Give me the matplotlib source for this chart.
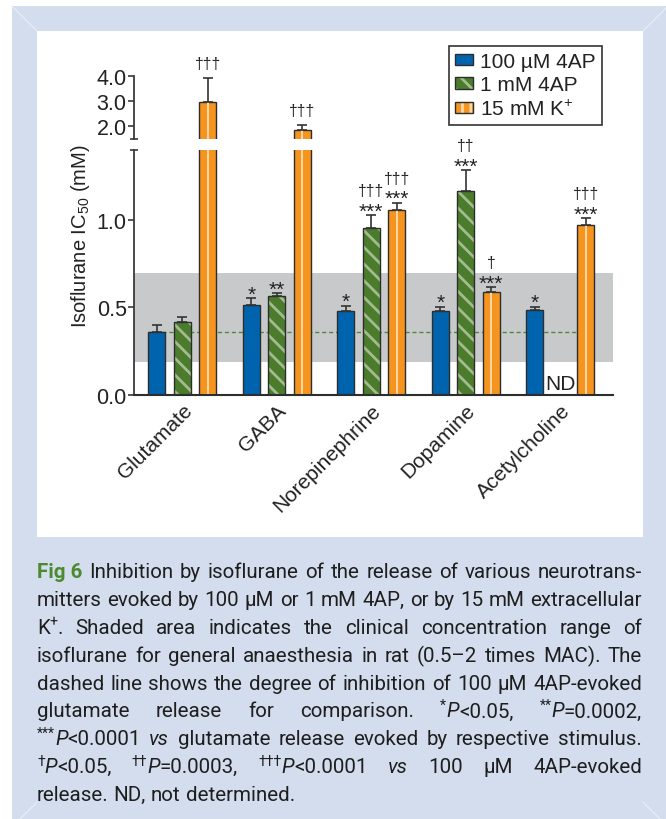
import re
import matplotlib
matplotlib.use("Agg")
import matplotlib.pyplot as plt
import numpy as np
from matplotlib.patches import Rectangle, Patch
from matplotlib.lines import Line2D
from matplotlib.legend_handler import HandlerTuple
from matplotlib.font_manager import FontProperties

plt.rcParams['font.family'] = ['Liberation Sans', 'DejaVu Sans']
plt.rcParams['mathtext.fontset'] = 'custom'
plt.rcParams['mathtext.rm'] = 'Liberation Sans'
plt.rcParams['mathtext.it'] = 'Liberation Sans:italic'
plt.rcParams['hatch.linewidth'] = 2.0

# IC50 values (mM) with SEM, per transmitter and stimulus
transmitters = ["Glutamate", "GABA", "Norepinephrine", "Dopamine", "Acetylcholine"]
ic50_4ap100 = [0.362, 0.515, 0.479, 0.477, 0.485]
sem_4ap100 = [0.036, 0.037, 0.031, 0.027, 0.019]
ic50_4ap1m = [0.414, 0.565, 0.953, 1.166, np.nan]
sem_4ap1m = [0.029, 0.017, 0.077, 0.122, np.nan]
ic50_k15 = [2.98, 1.85, 1.056, 0.586, 0.971]
sem_k15 = [0.94, 0.21, 0.044, 0.032, 0.039]

stars_4ap100 = ["", "*", "*", "*", "*"]
stars_4ap1m = ["", "**", "***", "***", ""]
dagger_4ap1m = ["", "", "†††", "††", ""]
stars_k15 = ["", "", "***", "***", "***"]
dagger_k15 = ["†††", "†††", "†††", "†", "†††"]

series_labels = ["100 µM 4AP", "1 mM 4AP", "15 mM K$^{+}$"]
clinical_range = (0.185, 0.70)

BLUE = '#0063ae'
GREEN = '#4a7c2c'
GREEN_LT = '#a3bb8f'
ORANGE = '#f5951f'
ORANGE_LT = '#fcd7a6'
EDGE = '#2d2d2d'
BAND = '#c8c9cb'
FRAME = '#d4ddee'

W, H = 666, 820
fig = plt.figure(figsize=(W / 100, H / 100), dpi=100)
fx = lambda px: px / W
fy = lambda py: 1 - py / H

# framed background
fig.add_artist(Rectangle((fx(12), fy(830)), fx(670) - fx(12), fy(7) - fy(830),
                         transform=fig.transFigure, color=FRAME, lw=0, zorder=-10))
fig.add_artist(Rectangle((fx(37), fy(538)), fx(643) - fx(37), fy(32) - fy(538),
                         transform=fig.transFigure, color='white', lw=0, zorder=-9))
for (x0, y0), (x1, y1) in [((12, 7), (37, 32)), ((668, 7), (643, 32)),
                           ((12, 828), (37, 803)), ((668, 828), (643, 803))]:
    fig.add_artist(Line2D([fx(x0), fx(x1)], [fy(y0), fy(y1)], transform=fig.transFigure,
                          color='#e9eef7', lw=0.8, zorder=-8))

ax_lo = fig.add_axes([fx(134), fy(395.7), fx(612.7) - fx(134), fy(151.3) - fy(395.7)])
ax_hi = fig.add_axes([fx(134), fy(140), fx(612.7) - fx(134), fy(77.3) - fy(140)])

x = np.arange(len(transmitters))
off = 0.27
bw = 0.18

series = [(ic50_4ap100, sem_4ap100, BLUE, None, None),
          (ic50_4ap1m, sem_4ap1m, GREEN, GREEN_LT, '\\\\'),
          (ic50_k15, sem_k15, ORANGE, None, None)]

for ax in (ax_lo, ax_hi):
    ax.set_facecolor('none')
    for k, (vals, sems, col, hcol, hatch) in enumerate(series):
        xs = x + (k - 1) * off
        vals = np.array(vals)
        ok = ~np.isnan(vals)
        if hatch:
            ax.bar(xs[ok], vals[ok], bw, color=col, edgecolor=hcol, hatch=hatch, lw=0, zorder=2)
            ax.bar(xs[ok], vals[ok], bw, fill=False, edgecolor=EDGE, lw=1.0, zorder=2.2)
        else:
            ax.bar(xs[ok], vals[ok], bw, color=col, edgecolor=EDGE, lw=1.0, zorder=2)
        if col == ORANGE:
            ax.vlines(xs[ok], 0, vals[ok], color=ORANGE_LT, lw=1.4, zorder=2.1)
        ax.errorbar(xs[ok], vals[ok], yerr=[np.zeros(ok.sum()), np.array(sems)[ok]],
                    fmt='none', ecolor='#333333', elinewidth=1.2, capsize=3.4,
                    capthick=1.2, zorder=2.3)
    ax.set_xlim(-0.511, 4.556)
    for s in ('top', 'right'):
        ax.spines[s].set_visible(False)
    ax.spines['left'].set_color('#3a3a3a')
    ax.spines['left'].set_linewidth(1.3)
    ax.tick_params(axis='y', direction='out', length=4.3, width=1.2, color='#3a3a3a',
                   labelsize=15.5, pad=1, labelcolor='#222222')

# lower segment
ax_lo.set_ylim(0, 1.40)
ax_lo.axhspan(*clinical_range, color=BAND, lw=0, zorder=0)
ax_lo.plot([-off - bw / 2, 4 + off], [ic50_4ap100[0]] * 2, color='#4f8a3c', lw=1.0,
           ls=(0, (3, 2)), zorder=1)
ax_lo.set_yticks([0, 0.5, 1.0], ['0.0', '0.5', '1.0'])
ax_lo.spines['bottom'].set_color('#2d2d2d')
ax_lo.spines['bottom'].set_linewidth(1.5)
ax_lo.set_xticks(x, transmitters, rotation=45, ha='right', rotation_mode='anchor',
                 fontsize=15, color='#222222')
ax_lo.tick_params(axis='x', length=0, pad=4)
ax_lo.plot(0, 1, marker='_', ms=6, mew=1.2, color='#3a3a3a', transform=ax_lo.transAxes,
           clip_on=False)
ax_lo.annotate("ND", (4, 0), xytext=(0, 4), textcoords='offset points', ha='center',
               va='baseline', fontsize=15, color='#222222')

# upper segment
ax_hi.set_ylim(1.49, 4.0)
ax_hi.set_yticks([2, 3, 4], ['2.0', '3.0', '4.0'])
ax_hi.spines['bottom'].set_visible(False)
ax_hi.set_xticks([])
ax_hi.plot(0, 0, marker='_', ms=6, mew=1.2, color='#3a3a3a', transform=ax_hi.transAxes,
           clip_on=False)

# significance marks over the bars
marks = [(stars_4ap100, ["", "", "", "", ""], ic50_4ap100, sem_4ap100, -1),
         (stars_4ap1m, dagger_4ap1m, ic50_4ap1m, sem_4ap1m, 0),
         (stars_k15, dagger_k15, ic50_k15, sem_k15, 1)]
for stars, daggers, vals, sems, k in marks:
    for i in range(len(transmitters)):
        if np.isnan(vals[i]):
            continue
        top = vals[i] + sems[i]
        ax = ax_hi if top > 1.45 else ax_lo
        xi = i + k * off
        if stars[i]:
            ax.annotate(stars[i], (xi, top), xytext=(0, -1.1), textcoords='offset points',
                        ha='center', va='baseline', fontsize=15, color='#222222',
                        annotation_clip=False)
        if daggers[i]:
            dy = 14.5 if stars[i] else 7.1
            ax.annotate(daggers[i], (xi, top), xytext=(0, dy), textcoords='offset points',
                        ha='center', va='baseline', fontsize=11.3, color='#222222',
                        annotation_clip=False)

fig.text(fx(81), fy(236), "Isoflurane IC$_{50}$ (mM)", rotation=90, ha='center',
         va='center', fontsize=14.5, color='#222222')

h_blue = Patch(facecolor=BLUE, edgecolor=EDGE, lw=1)
h_green = (Patch(facecolor=GREEN, edgecolor=GREEN_LT, hatch='\\\\', lw=0),
           Patch(fill=False, edgecolor=EDGE, lw=1))
h_orange = (Patch(facecolor=ORANGE, edgecolor=ORANGE_LT, hatch='||', lw=0),
            Patch(fill=False, edgecolor=EDGE, lw=1))
leg = fig.legend([h_blue, h_green, h_orange], series_labels, loc='upper left',
                 bbox_to_anchor=(fx(449), fy(47)), bbox_transform=fig.transFigure,
                 fontsize=15, frameon=True, fancybox=False, framealpha=1,
                 edgecolor='#333333', borderpad=0.3, labelspacing=0.2,
                 handlelength=0.87, handleheight=0.45, handletextpad=0.3,
                 borderaxespad=0, handler_map={tuple: HandlerTuple(ndivide=1, pad=0)})
leg.get_frame().set_linewidth(1.2)
for t in leg.get_texts():
    t.set_color('#222222')

# caption, justified between the panel edges
caption = [
    "{b:Fig\u00a06} Inhibition by isoflurane of the release of various neurotrans-",
    "mitters evoked by 100 μM or 1 mM 4AP, or by 15 mM extracellular",
    "K{s:+}. Shaded area indicates the clinical concentration range of",
    "isoflurane for general anaesthesia in rat (0.5–2 times MAC). The",
    "dashed line shows the degree of inhibition of 100 μM 4AP-evoked",
    "glutamate release for comparison. {s:*}{i:P}<0.05, {s:**}{i:P}=0.0002,",
    "{s:***}{i:P}<0.0001 {i:vs} glutamate release evoked by respective stimulus.",
    "{s:†}{i:P}<0.05, {s:††}{i:P}=0.0003, {s:†††}{i:P}<0.0001 {i:vs} 100 μM 4AP-evoked",
    "release. ND, not determined.",
]
CAP_FONT = ['Roboto', 'DejaVu Sans']
CAP_COLOR = '#1e1e1e'
CAP_GREEN = '#4b8a2e'
cap_left, cap_right = 37, 642
renderer = fig.canvas.get_renderer()


def parse_word(word):
    runs = []
    for m in re.finditer(r'\{(\w):([^}]*)\}|([^{]+)', word):
        runs.append((m.group(3), 'n') if m.group(3) else (m.group(2), m.group(1)))
    return runs


def run_props(style, size):
    p = dict(family=CAP_FONT, size=size, style='normal', weight='normal')
    if style == 'i':
        p['style'] = 'italic'
    elif style == 'b':
        p['weight'] = 'bold'
    elif style == 's':
        p['size'] = size * 0.68
    return p


def run_width(text, style, size):
    fp = FontProperties(**run_props(style, size))
    return renderer.get_text_width_height_descent(text, fp, ismath=False)[0]


def word_width(runs, size):
    return sum(run_width(t, s, size) for t, s in runs)


lines = [[parse_word(w) for w in ln.split(' ')] for ln in caption]
base = 13.0
space = run_width("x x", 'n', base) - run_width("xx", 'n', base)
natural = [sum(word_width(w, base) for w in ln) + space * (len(ln) - 1) for ln in lines]
cap_size = base * (cap_right - cap_left - 4) / max(natural)
space *= cap_size / base

for li, ln in enumerate(lines):
    yb = 578.5 + 27.8 * li
    widths = [word_width(w, cap_size) for w in ln]
    if li < len(lines) - 1 and len(ln) > 1:
        gap = (cap_right - cap_left - sum(widths)) / (len(ln) - 1)
    else:
        gap = space
    xc = cap_left
    for w, ww in zip(ln, widths):
        xr = xc
        for text, style in w:
            p = run_props(style, cap_size)
            rise = 0.36 * cap_size * 100 / 72 if style == 's' else 0
            col = CAP_GREEN if style == 'b' else CAP_COLOR
            fig.text(fx(xr), fy(yb - rise), text, ha='left', va='baseline', color=col,
                     fontfamily=p['family'], fontsize=p['size'], fontstyle=p['style'],
                     fontweight=p['weight'])
            xr += run_width(text, style, cap_size)
        xc += ww + gap

fig.savefig('out.png', dpi=100)
